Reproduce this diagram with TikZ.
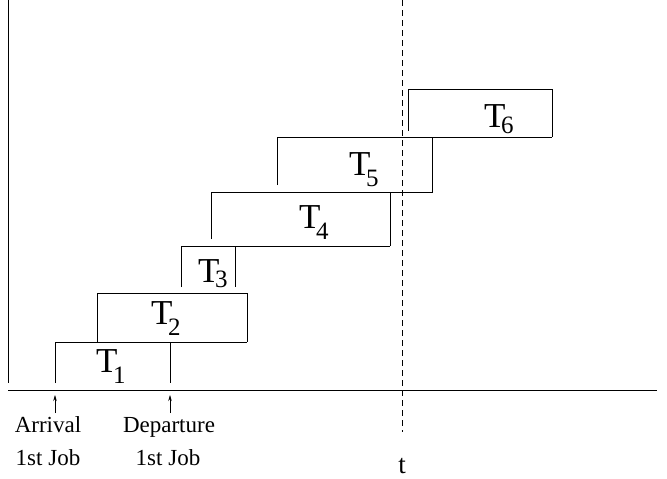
\documentclass[tikz,border=0pt]{standalone}
\usepackage{fontspec}
\setmainfont{Liberation Serif}
\usetikzlibrary{arrows.meta}
\newcommand{\tsub}[2]{{\fontsize{35}{35}\selectfont T}\kern-4.5pt\raisebox{-#2pt}{\fontsize{25}{25}\selectfont #1}}
\begin{document}
\begin{tikzpicture}[x=1pt,y=-1pt,
  ln/.style={line width=0.8pt},
  lab/.style={font=\fontsize{23}{23}\selectfont, anchor=base, inner sep=0pt},
  tlab/.style={anchor=base west, inner sep=0pt},
  tick/.style={line width=0.6pt, -{Stealth[length=6pt,width=3.5pt]}}]
\useasboundingbox (0,0) rectangle (667,479);
% axes
\draw[ln] (8,0) -- (8,383);
\draw[ln] (8,390) -- (657,390);
% T1
\draw[ln] (55,383) -- (55,342) -- (247,342);
\draw[ln] (170,342) -- (170,383);
% T2
\draw[ln] (97,342) -- (97,293) -- (247,293) -- (247,342);
% T3
\draw[ln] (181,287) -- (181,246) -- (390,246);
\draw[ln] (235,246) -- (235,287);
% T4
\draw[ln] (211,239) -- (211,192) -- (432,192) -- (432,137);
\draw[ln] (390,192) -- (390,246);
% T5
\draw[ln] (277,185) -- (277,137) -- (552,137);
% T6
\draw[ln] (408,131) -- (408,89) -- (552,89) -- (552,137);
% dashed time line
\draw[line width=0.7pt, dash pattern=on 6pt off 4pt] (402,0) -- (402,432);
% labels
\node[tlab] (t1) at (96,372) {\tsub{1}{11}};
\node[tlab] (t2) at (151,324.5) {\tsub{2}{11}};
\node[tlab] (t3) at (198,282) {\tsub{3}{5}};
\node[tlab] (t4) at (299,228.5) {\tsub{4}{11}};
\node[tlab] (t5) at (349,175) {\tsub{5}{11}};
\node[tlab] (t6) at (484,127) {\tsub{6}{6}};
% bottom labels
\node[lab] (arr) at (48,432) {Arrival};
\node[lab] (arrj) at (48,465) {1st Job};
\node[lab] (dep) at (169,432) {Departure};
\node[lab] (depj) at (168,465) {1st Job};
\node[lab, font=\fontsize{27}{27}\selectfont] (tt) at (402,473) {t};
\coordinate (a0) at (55,413);
\coordinate (a1) at (55,395);
\coordinate (d0) at (170,413);
\coordinate (d1) at (170,395);
\draw[tick] (a0) -- (a1);
\draw[tick] (d0) -- (d1);
\end{tikzpicture}
\end{document}
